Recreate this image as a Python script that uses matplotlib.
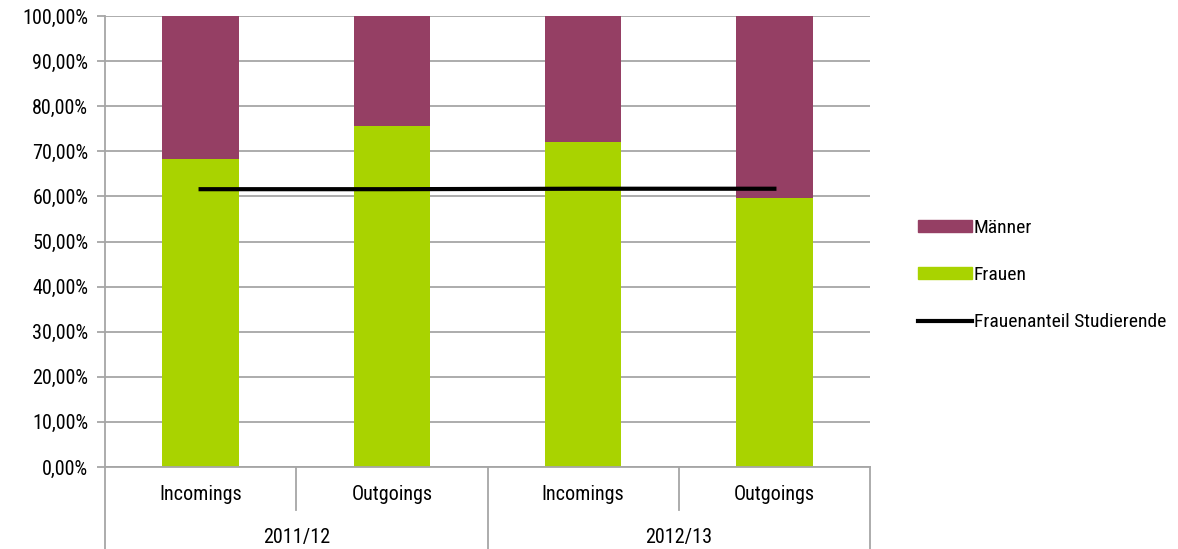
import matplotlib.pyplot as plt
from matplotlib import font_manager as fm
from matplotlib.patches import Patch
from matplotlib.lines import Line2D
import numpy as np

# schmale Schrift, falls vorhanden
namen = {f.name for f in fm.fontManager.ttflist}
schmal = [n for n in ['Roboto Condensed', 'Open Sans Condensed', 'DejaVu Sans Condensed',
                      'Liberation Sans Narrow'] if n in namen]
plt.rcParams['font.family'] = schmal + ['DejaVu Sans']
plt.rcParams['font.stretch'] = 'condensed'

# Daten
jahre = ['2011/12', '2012/13']
kategorien = ['Incomings', 'Outgoings', 'Incomings', 'Outgoings']
frauen = [68.4, 75.5, 72.0, 59.6]
maenner = [100 - f for f in frauen]
anteil_studierende = [61.6, 61.6, 61.7, 61.7]

farbe_frauen = '#a9d300'
farbe_maenner = '#953f64'
grau = '#a6a6a6'
fs = 14.5

fig = plt.figure(figsize=(11.78, 5.49), dpi=100)
ax = fig.add_axes([105 / 1178, 1 - 467 / 549, 765 / 1178, 451 / 549])

x = np.arange(len(kategorien))
ax.bar(x, frauen, width=0.4, color=farbe_frauen, zorder=2)
ax.bar(x, maenner, width=0.4, bottom=frauen, color=farbe_maenner, zorder=2)
ax.plot(x, anteil_studierende, color='black', lw=3, zorder=3)

ax.set_xlim(-0.5, len(kategorien) - 0.5)
ax.set_ylim(0, 100)
ax.set_yticks(np.arange(0, 101, 10))
ax.set_yticklabels([f'{v},00%' for v in range(0, 101, 10)], fontsize=fs)
ax.yaxis.grid(True, color=grau, lw=1.3, zorder=0)
for s in ['top', 'right']:
    ax.spines[s].set_visible(False)
ax.spines['left'].set_color(grau)
ax.spines['left'].set_linewidth(1.3)
ax.spines['bottom'].set_color(grau)
ax.spines['bottom'].set_linewidth(1.3)
ax.tick_params(axis='y', length=6, color=grau, width=1.3, pad=6)
ax.set_xticks([])

# zweistufige Kategorienachse
tr = ax.get_xaxis_transform()
for xi, lab in zip(x, kategorien):
    ax.text(xi, -28 / 451, lab, ha='center', va='center', fontsize=fs, transform=tr)
for i, j in enumerate(jahre):
    ax.text(0.5 + 2 * i, -70 / 451, j, ha='center', va='center', fontsize=fs, transform=tr)
for xs in [0.5, 2.5]:
    ax.plot([xs, xs], [0, -43 / 451], color=grau, lw=1.3, transform=tr, clip_on=False)
for xs in [-0.5, 1.5, 3.5]:
    ax.plot([xs, xs], [0, -82 / 451], color=grau, lw=1.3, transform=tr, clip_on=False)

handles = [Patch(color=farbe_maenner), Patch(color=farbe_frauen),
           Line2D([0], [0], color='black', lw=3)]
labels = ['Männer', 'Frauen', 'Frauenanteil Studierende']
fig.legend(handles, labels, loc='center left', bbox_to_anchor=(900 / 1178, 1 - 275 / 549),
           frameon=False, fontsize=14, handlelength=2.8, handleheight=0.55,
           handletextpad=0.1, labelspacing=1.5)

fig.savefig('out.png', dpi=100)
